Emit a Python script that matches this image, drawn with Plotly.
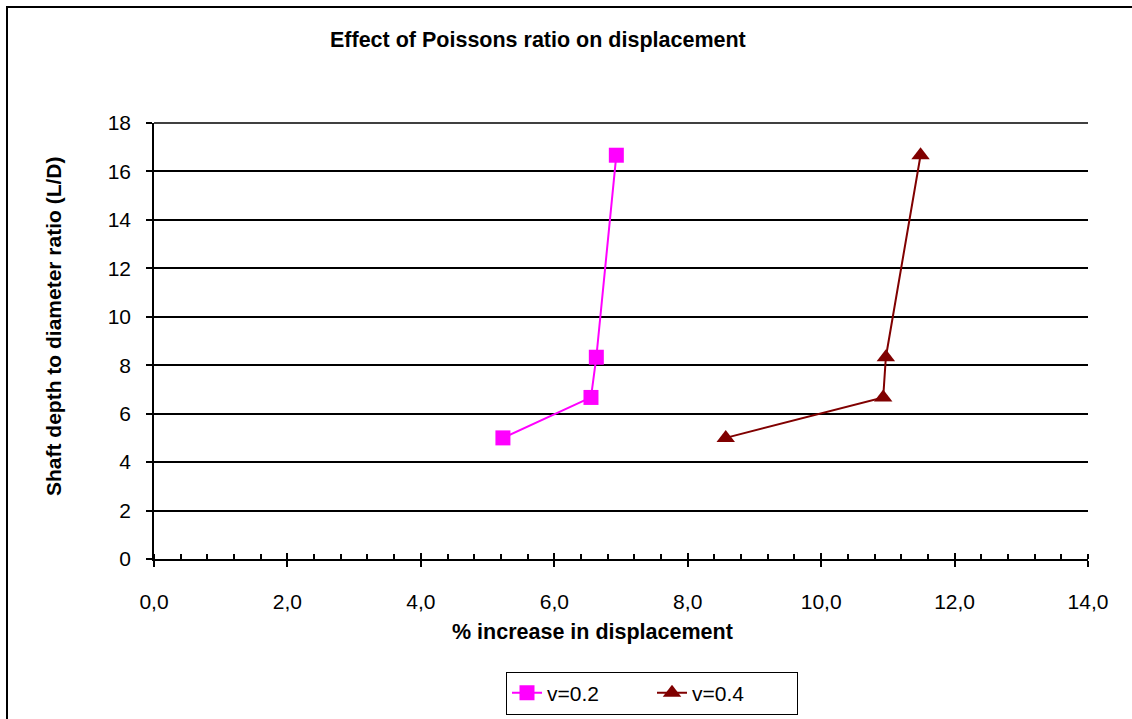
import plotly.graph_objects as go

x_v02 = [5.23, 6.55, 6.63, 6.93]
y_v02 = [5.0, 6.67, 8.33, 16.67]
x_v04 = [8.57, 10.93, 10.97, 11.49]
y_v04 = [5.0, 6.67, 8.33, 16.67]
series_names = ["v=0.2", "v=0.4"]
title_text = "Effect of Poissons ratio on displacement"
x_title = "% increase in displacement"
y_title = "Shaft depth to diameter ratio (L/D)"
x_ticks = [0, 2, 4, 6, 8, 10, 12, 14]
y_ticks = [0, 2, 4, 6, 8, 10, 12, 14, 16, 18]

W, H = 1132, 719
L, R, T, B = 154, 1088, 123, 559
FONT = "Liberation Sans, Arial, sans-serif"

def px(x):
    return (x - L) / (R - L)

def py(y):
    return (B - y) / (B - T)

fig = go.Figure()
fig.add_trace(go.Scatter(x=x_v02, y=y_v02, mode="lines+markers", name=series_names[0],
                         line=dict(color="#FF00FF", width=2),
                         marker=dict(symbol="square", size=15, color="#FF00FF")))
fig.add_trace(go.Scatter(x=x_v04, y=y_v04, mode="lines+markers", name=series_names[1],
                         line=dict(color="#800000", width=2),
                         marker=dict(symbol="triangle-up", size=16, color="#800000")))
# helper invisible trace for second x axis (crossing major ticks)
fig.add_trace(go.Scatter(x=[x_ticks[0], x_ticks[-1]], y=[y_ticks[0], y_ticks[0]], xaxis="x2",
                         mode="lines", line=dict(width=0), showlegend=False, hoverinfo="skip"))

fig.update_layout(
    width=W, height=H,
    margin=dict(l=L, r=W - R, t=T, b=H - B, autoexpand=False),
    paper_bgcolor="white", plot_bgcolor="white",
    separators=",.",
    font=dict(family=FONT, size=21, color="black"),
    showlegend=True,
    legend=dict(orientation="h", x=px(652), y=py(693), xanchor="center", yanchor="middle",
                bordercolor="black", borderwidth=1, font=dict(size=21, family=FONT),
                entrywidth=100, entrywidthmode="pixels", tracegroupgap=0),
    xaxis=dict(range=[x_ticks[0], x_ticks[-1]], tickvals=x_ticks, tickformat=".1f",
               showgrid=False, zeroline=False, showline=True, linecolor="black", linewidth=1.5,
               ticks="outside", ticklen=6, tickwidth=1.5, tickcolor="black",
               ticklabelstandoff=17,
               minor=dict(dtick=0.4, tick0=0, ticks="inside", ticklen=5, tickwidth=1.5,
                          tickcolor="black", showgrid=False),
               tickfont=dict(size=21, family=FONT)),
    xaxis2=dict(range=[x_ticks[0], x_ticks[-1]], overlaying="x", side="bottom", tickvals=x_ticks,
                showticklabels=False, showgrid=False, zeroline=False, showline=False,
                ticks="inside", ticklen=6, tickwidth=1.5, tickcolor="black"),
    yaxis=dict(range=[y_ticks[0], y_ticks[-1]], tickvals=y_ticks,
               showgrid=True, gridcolor="black", gridwidth=1.5, zeroline=False,
               showline=True, linecolor="black", linewidth=1.5,
               ticks="outside", ticklen=6, tickwidth=1.5, tickcolor="black",
               ticklabelstandoff=11,
               tickfont=dict(size=21, family=FONT)),
    annotations=[
        dict(text="<b>" + title_text + "</b>", xref="paper", yref="paper",
             x=px(538), y=py(40), xanchor="center", yanchor="middle", showarrow=False,
             font=dict(size=21.5, family=FONT)),
        dict(text="<b>" + x_title + "</b>", xref="paper", yref="paper",
             x=px(592), y=py(632), xanchor="center", yanchor="middle", showarrow=False,
             font=dict(size=21.5, family=FONT)),
        dict(text="<b>" + y_title + "</b>", xref="paper", yref="paper",
             x=px(53), y=py(326), xanchor="center", yanchor="middle", showarrow=False,
             textangle=-90, font=dict(size=21, family=FONT)),
    ],
    shapes=[
        dict(type="rect", xref="paper", yref="paper",
             x0=px(7), x1=px(1145), y0=py(730), y1=py(7),
             line=dict(color="black", width=2), layer="below"),
        # top gridline at the upper edge of the plot area
        dict(type="line", xref="paper", yref="paper", x0=0, x1=1, y0=1, y1=1,
             line=dict(color="black", width=1.5), layer="below"),
    ],
)

fig.write_html("out.html")
